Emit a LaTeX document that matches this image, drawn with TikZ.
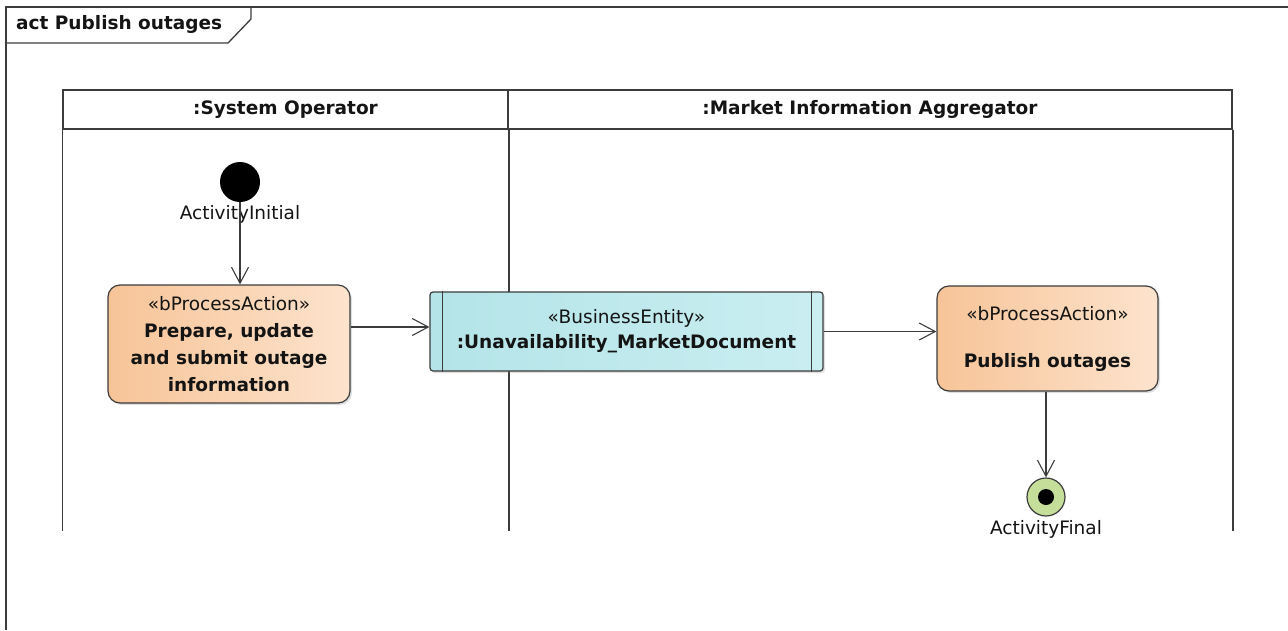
\documentclass[tikz,border=0pt]{standalone}
\usepackage{fontspec}
\setmainfont{DejaVu Sans}
\usetikzlibrary{arrows.meta, shadows, positioning}

\newcommand{\stereo}[1]{{\mdseries\fontsize{18.5}{26}\selectfont #1}}

\begin{document}
\begin{tikzpicture}[
    x=1pt, y=-1pt,
    >={Straight Barb[length=16pt,width=17pt]},
    font=\fontsize{18.5}{26}\selectfont,
]

\definecolor{line_color}{RGB}{60,60,60}
\definecolor{text_color}{RGB}{20,20,20}
\definecolor{action_left}{RGB}{247,196,152}
\definecolor{action_right}{RGB}{253,227,205}
\definecolor{entity_left}{RGB}{180,228,232}
\definecolor{entity_right}{RGB}{202,238,241}
\definecolor{final_color}{RGB}{197,222,154}

\tikzstyle{lane} = [draw=line_color, line width=1.5pt]
\tikzstyle{lanehead} = [rectangle, draw=line_color, line width=1.5pt, inner sep=0pt, font=\fontsize{18.5}{26}\selectfont\bfseries, text=text_color]
\tikzstyle{action} = [rectangle, rounded corners=12pt, draw=line_color, line width=1.2pt, left color=action_left, right color=action_right, align=center, text=text_color, font=\fontsize{18.5}{27}\selectfont\bfseries, drop shadow={shadow xshift=2pt, shadow yshift=-2pt, opacity=.25}]
\tikzstyle{entity} = [rectangle, rounded corners=3pt, draw=line_color, line width=1.2pt, left color=entity_left, right color=entity_right, align=center, text=text_color, font=\fontsize{18.5}{25}\selectfont\bfseries, drop shadow={shadow xshift=2pt, shadow yshift=-2pt, opacity=.25}]
\tikzstyle{flow} = [->, draw=line_color, line width=1.1pt]
\tikzstyle{caption} = [inner sep=0pt, text=text_color]

\useasboundingbox (0,0) rectangle (1288,630);

% diagram frame
\draw[line_color, line width=1.3pt] (6,630) -- (6,7) -- (1288,7);
\node (title) [anchor=west, inner sep=0pt, font=\fontsize{18.5}{26}\selectfont\bfseries, text=text_color] at (16,24) {act Publish outages};
\draw[line_color, line width=1.3pt] (6,43) -- (228,43) -- (251,19) -- (251,7);

% swimlanes
\node (lane1) [lanehead, minimum width=445, minimum height=39] at (285.5,109.5) {:System Operator};
\node (lane2) [lanehead, minimum width=724, minimum height=39] at (870,109.5) {:Market Information Aggregator};
\draw[lane] (lane1.south west) -- ++(0,401);
\draw[lane] (lane1.south east) -- ++(0,401);
\draw[lane] (lane2.south east) -- ++(0,401);

% nodes
\node (init) [circle, fill=black, minimum size=40, inner sep=0pt] at (240,182) {};
\node (initlabel) [caption, below=3pt of init] {ActivityInitial};

\node (prepare) [action, minimum width=242, minimum height=118] at (229,344) {\stereo{«bProcessAction»}\\ Prepare, update\\ and submit outage\\ information};

\node (doc) [entity, minimum width=393, minimum height=79] at (626.5,331.5) {\stereo{«BusinessEntity»}\\ :Unavailability\_MarketDocument};
\draw[line_color, line width=1.2pt] ([xshift=13pt]doc.north west) -- ([xshift=13pt]doc.south west);
\draw[line_color, line width=1.2pt] ([xshift=-12pt]doc.north east) -- ([xshift=-12pt]doc.south east);

\node (publish) [action, minimum width=221, minimum height=105] at (1047.5,338.5) {\stereo{«bProcessAction»}\\[20pt] Publish outages};

\node (final) [circle, draw=line_color, fill=final_color, line width=1.2pt, minimum size=38, inner sep=0pt] at (1046,497) {};
\fill (final.center) circle (8);
\node (finallabel) [caption, below=4pt of final] {ActivityFinal};

% flows
\draw[flow] (init) -- (init |- prepare.north);
\draw[flow] ([yshift=17pt]prepare.east) -- ([yshift=17pt]prepare.east -| doc.west);
\draw[flow] (doc.east) -- (doc.east -| publish.west);
\draw[flow] (publish.south -| final) -- (final.north);

\end{tikzpicture}
\end{document}
